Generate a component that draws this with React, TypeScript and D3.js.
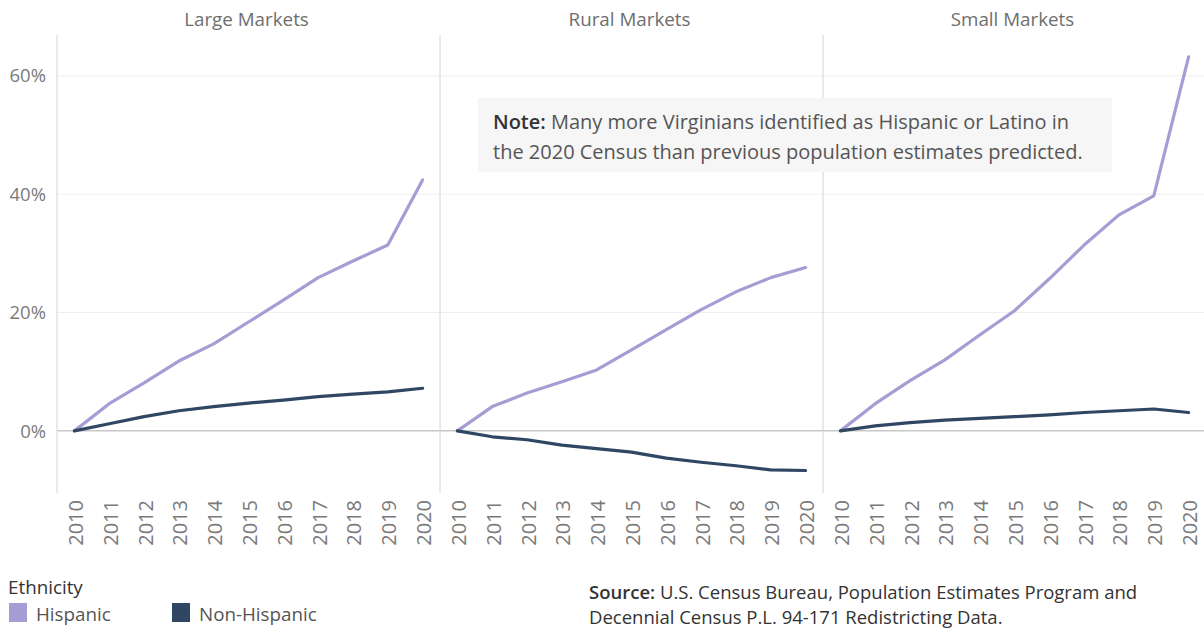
import React from "react";
import * as d3 from "d3";

const years = ["2010","2011","2012","2013","2014","2015","2016","2017","2018","2019","2020"];
const markets = ["Large Markets", "Rural Markets", "Small Markets"];
const hispanicLarge = [0, 4.6, 8.1, 11.8, 14.7, 18.4, 22.1, 25.9, 28.7, 31.4, 42.4];
const nonHispanicLarge = [0, 1.2, 2.4, 3.4, 4.1, 4.7, 5.2, 5.8, 6.2, 6.6, 7.2];
const hispanicRural = [0, 4.1, 6.4, 8.3, 10.3, 13.7, 17.1, 20.5, 23.5, 25.9, 27.6];
const nonHispanicRural = [0, -1.0, -1.5, -2.4, -3.0, -3.6, -4.6, -5.3, -5.9, -6.6, -6.7];
const hispanicSmall = [0, 4.6, 8.5, 12.0, 16.2, 20.3, 25.7, 31.4, 36.5, 39.7, 63.2];
const nonHispanicSmall = [0, 0.85, 1.4, 1.8, 2.1, 2.4, 2.7, 3.1, 3.4, 3.7, 3.1];
const yTicks = [0, 20, 40, 60];
const seriesNames = ["Hispanic", "Non-Hispanic"];
const colors = ["#a59dd4", "#2f4763"];

const panelData = [
  [hispanicLarge, nonHispanicLarge],
  [hispanicRural, nonHispanicRural],
  [hispanicSmall, nonHispanicSmall],
];

const FONT = "'Open Sans', 'Noto Sans', sans-serif";

export default function App() {
  const W = 1204, H = 628;
  const left = 57, right = 1206, top = 35, bottom = 493;
  const panelW = (right - left) / 3;
  const y = d3.scaleLinear().domain([-10.5, 66.9]).range([bottom, top]);

  return (
    <svg width={W} height={H} style={{ position: "absolute", left: 0, top: 0, fontFamily: FONT }}>
      <rect width={W} height={H} fill="#fff" />
      {yTicks.map((t) => (
        <g key={t}>
          <line x1={left} x2={W} y1={y(t)} y2={y(t)} stroke={t === 0 ? "#c8c8c8" : "#efefef"} strokeWidth={t === 0 ? 1.5 : 1} />
          <text x={46} y={y(t)} dy="0.36em" textAnchor="end" fontSize={18.5} fill="#7a7a7a">{t}%</text>
        </g>
      ))}
      {markets.map((m, i) => {
        const x0 = left + i * panelW;
        const x = d3.scalePoint<string>().domain(years).range([x0, x0 + panelW]).padding(0.5);
        const line = d3.line<number>().x((_, j) => x(years[j]) as number).y((v) => y(v));
        return (
          <g key={m}>
            <line x1={x0} x2={x0} y1={top} y2={bottom} stroke="#d4d4d4" strokeWidth={1} />
            <text x={x0 + panelW / 2 - 2} y={26} textAnchor="middle" fontSize={18.8} fill="#6e6e6e">{m}</text>
            {years.map((yr) => (
              <text key={yr} transform={`translate(${(x(yr) as number) + 8.5},${500}) rotate(-90)`} textAnchor="end" fontSize={20} fill="#7a7a7a">{yr}</text>
            ))}
            {panelData[i].map((vals, k) => (
              <path key={k} d={line(vals) || ""} fill="none" stroke={colors[k]} strokeWidth={3.2} strokeLinejoin="round" strokeLinecap="round" />
            ))}
          </g>
        );
      })}
      <rect x={478} y={98} width={634} height={74} fill="#f6f6f6" />
      <text x={493} y={129} fontSize={20} fill="#555">
        <tspan fontWeight="600" fill="#333">Note:</tspan> Many more Virginians identified as Hispanic or Latino in
      </text>
      <text x={493} y={159} fontSize={20} fill="#555">the 2020 Census than previous population estimates predicted.</text>

      <text x={8} y={594} fontSize={18.8} fill="#333">Ethnicity</text>
      {seriesNames.map((s, k) => {
        const lx = k === 0 ? 9 : 172;
        return (
          <g key={s}>
            <rect x={lx} y={603} width={18} height={19} fill={colors[k]} />
            <text x={lx + 27} y={621} fontSize={18.8} fill="#555">{s}</text>
          </g>
        );
      })}
      <text x={589} y={599} fontSize={18.5} fill="#333">
        <tspan fontWeight="600">Source:</tspan> U.S. Census Bureau, Population Estimates Program and
      </text>
      <text x={589} y={624} fontSize={18.5} fill="#333">Decennial Census P.L. 94-171 Redistricting Data.</text>
    </svg>
  );
}
